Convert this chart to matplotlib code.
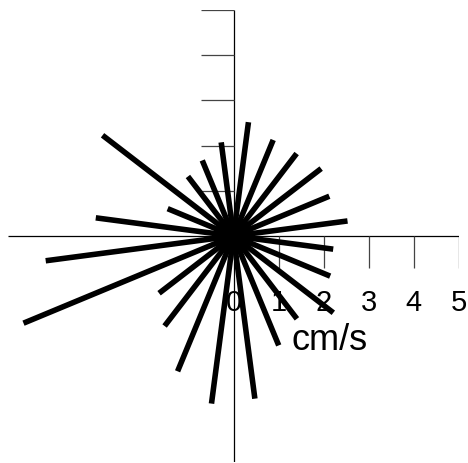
import numpy as np
import matplotlib
matplotlib.use("Agg")
import matplotlib.pyplot as plt

# direction of each vector (degrees, counter-clockwise from +x) and its speed (cm/s)
angles = [7.5, 22.5, 37.5, 52.5, 67.5, 82.5, 97.5, 112.5, 127.5, 142.5, 157.5, 172.5,
          187.5, 202.5, 217.5, 232.5, 247.5, 262.5, 277.5, 292.5, 307.5, 322.5, 337.5, 352.5]
speeds = [2.55, 2.30, 2.45, 2.30, 2.30, 2.54, 2.09, 1.81, 1.66, 3.66, 1.58, 3.08,
          4.20, 5.04, 2.08, 2.51, 3.24, 3.74, 3.63, 2.62, 2.31, 2.79, 2.32, 2.23]
tick_values = [1, 2, 3, 4, 5]
tick_labels = ["0", "1", "2", "3", "4", "5"]
unit_label = "cm/s"

plt.rcParams["font.family"] = ["Liberation Sans", "DejaVu Sans"]

fig = plt.figure(figsize=(4.68, 4.64), dpi=100)
ax = fig.add_axes([8 / 468, 1 / 464, 451 / 468, 452 / 464])
ax.set_xlim(-5, 5)
ax.set_ylim(-5, 5)
ax.axis("off")

# cross-shaped axes
ax.plot([-5, 5], [0, 0], color="black", lw=0.9, solid_capstyle="butt")
ax.plot([0, 0], [-5, 5], color="black", lw=0.9, solid_capstyle="butt")
for t in tick_values:
    ax.plot([t, t], [0, -0.71], color="#444444", lw=0.9, solid_capstyle="butt")
    ax.plot([0, -0.71], [t, t], color="#444444", lw=0.9, solid_capstyle="butt")

for i, lab in enumerate(tick_labels):
    ax.text(i, -1.47, lab, fontsize=21, ha="center", va="center")
ax.text(2.14, -2.3, unit_label, fontsize=26, ha="center", va="center")

# vectors from the origin
rad = np.deg2rad(angles)
u = np.array(speeds) * np.cos(rad)
v = np.array(speeds) * np.sin(rad)
for x, y in zip(u, v):
    ax.plot([0, x], [0, y], color="black", lw=4.0, solid_capstyle="butt")

fig.savefig("out.png", dpi=100)
